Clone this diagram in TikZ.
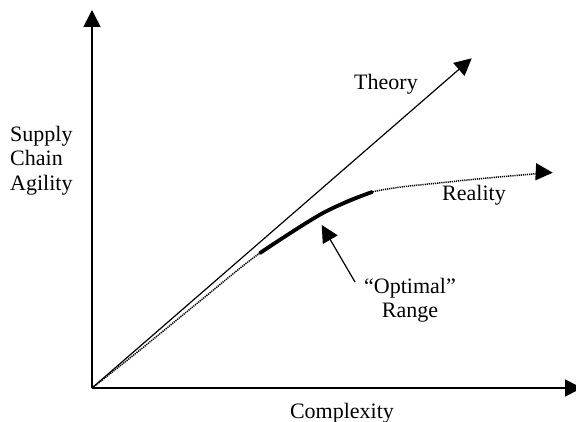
\documentclass[tikz,border=0pt]{standalone}
\usepackage{fontspec}
\setmainfont{Liberation Serif}
\usetikzlibrary{arrows.meta}

\begin{document}
\begin{tikzpicture}[
    x=1pt, y=-1pt,
    lbl/.style={font=\fontsize{22}{24.5}\selectfont, inner sep=0pt},
    tipx/.style={-{Triangle[length=17pt, width=17pt]}},
    axis/.style={tipx, line width=1.6pt},
    theory/.style={tipx, line width=1.2pt},
    reality/.style={tipx, line width=1.5pt, dash pattern=on 1.2pt off 0.9pt},
    optimal/.style={line width=3.8pt, line cap=round},
    pointer/.style={tipx, line width=1.2pt},
]
    \useasboundingbox (0,0) rectangle (576,422);

    \coordinate (o)    at (92,388);
    \coordinate (ytip) at (92,10);
    \coordinate (xtip) at (582,388);
    \coordinate (ttip) at (471.7,58.3);

    \coordinate (r1) at (140,350);
    \coordinate (r2) at (200,301);
    \coordinate (r3) at (260,253);
    \coordinate (r4) at (323,213);
    \coordinate (r5) at (372,192);
    \coordinate (r6) at (453,181.5);
    \coordinate (r7) at (533,174);
    \coordinate (rtip) at (552.7,172.7);

    \coordinate (otail) at (355,282);
    \coordinate (ohead) at (321.7,225);

    \draw[axis] (o) -- (ytip);
    \draw[axis] (o) -- (xtip);
    \draw[theory] (o) -- (ttip);
    \draw[reality] plot[smooth, tension=0.6] coordinates {(o) (r1) (r2) (r3) (r4) (r5) (r6) (r7) (rtip)};
    \draw[optimal] plot[smooth, tension=0.6] coordinates {(r3) (r4) (r5)};
    \draw[pointer] (otail) -- (ohead);

    \node[lbl, anchor=west, align=left] (agility) at (10,160.7) {Supply\\Chain\\Agility};
    \node[lbl, anchor=base] (complexity) at (342,418.3) {Complexity};
    \node[lbl, anchor=base] (theorylbl) at (386,89.3) {Theory};
    \node[lbl, anchor=base] (realitylbl) at (474,200.7) {Reality};
    \node[lbl, align=center] (range) at (410,300) {``Optimal''\\Range};
\end{tikzpicture}
\end{document}
